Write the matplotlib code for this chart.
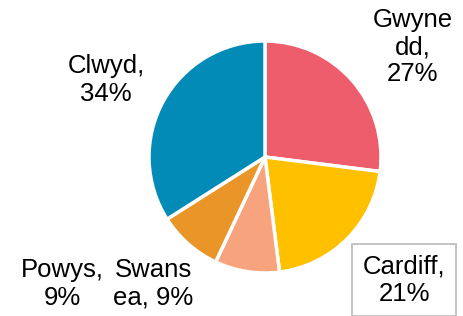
import matplotlib.pyplot as plt

names = ["Gwynedd", "Cardiff", "Swansea", "Powys", "Clwyd"]
shares = [27, 21, 9, 9, 34]
label_text = ["Gwyne\ndd,\n27%", "Cardiff,\n21%", "Swans\nea, 9%", "Powys,\n9%", "Clwyd,\n34%"]
colors = ["#EE5D6C", "#FFC000", "#F7A47E", "#E99528", "#038BB8"]

plt.rcParams["font.family"] = ["Liberation Sans", "DejaVu Sans"]

W, H = 463, 316
cx, cy, r = 265, 157, 116
fig = plt.figure(figsize=(W / 100, H / 100), dpi=100)
ax = fig.add_axes([(cx - r) / W, (H - cy - r) / H, 2 * r / W, 2 * r / H])

ax.pie(shares, colors=colors, startangle=90, counterclock=False, radius=1,
       wedgeprops=dict(edgecolor="white", linewidth=2.5))
ax.set_xlim(-1, 1)
ax.set_ylim(-1, 1)
ax.axis("off")

# label centres in pixels, converted to data units
label_px = [(413, 47), (404, 280), (153, 284), (62, 284), (106, 80)]
for txt, (px, py), nm in zip(label_text, label_px, names):
    x = (px - cx) / r
    y = (cy - py) / r
    kw = {}
    if nm == "Cardiff":
        kw["bbox"] = dict(boxstyle="square,pad=0.4", fc="white", ec="#BFBFBF", lw=1.3)
    ax.text(x, y, txt, ha="center", va="center", fontsize=18.5, linespacing=1.17,
            color="black", clip_on=False, **kw)

fig.savefig("out.png", dpi=100)
